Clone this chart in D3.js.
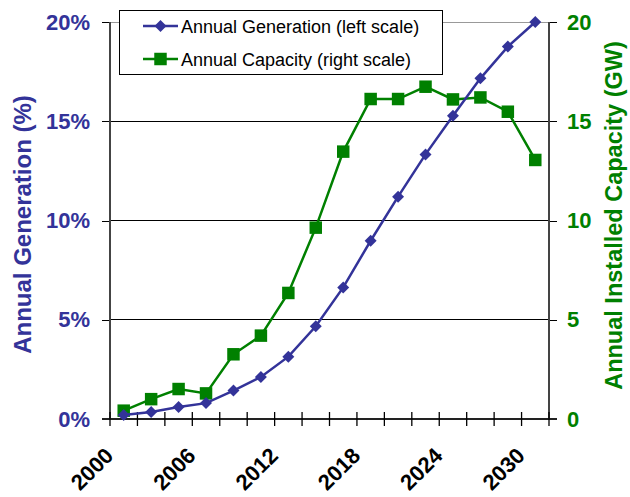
<!DOCTYPE html>
<html><head><meta charset="utf-8">
<script src="https://cdn.jsdelivr.net/npm/d3@7"></script>
<style>body{margin:0;background:#fff}svg{display:block}</style>
</head><body>
<svg id="c" width="630" height="497"></svg>
<script>
const years = ["2000","2002","2004","2006","2008","2010","2012","2014","2016","2018","2020","2022","2024","2026","2028","2030"];
const generation = [0.2,0.35,0.6,0.8,1.43,2.12,3.14,4.67,6.63,8.98,11.2,13.33,15.28,17.16,18.76,20.0];
const capacity = [0.42,1.0,1.51,1.29,3.26,4.2,6.35,9.64,13.47,16.12,16.12,16.74,16.1,16.2,15.48,13.05];
const xLabels = ["2000","2006","2012","2018","2024","2030"];
const leftTicks = [0,5,10,15,20];
const rightTicks = [0,5,10,15,20];
const seriesNames = ["Annual Generation (left scale)","Annual Capacity (right scale)"];
const leftTitle = "Annual Generation (%)";
const rightTitle = "Annual Installed Capacity (GW)";

const BLUE = "#333399", GREEN = "#008000";
const L = 110, R = 549, T = 22, B = 419;
const svg = d3.select("#c");
const font = "Liberation Sans, Arial, sans-serif";

const x = d3.scaleBand().domain(years).range([L, R]).padding(0);
const bw = x.bandwidth();
const cx = d => x(d) + bw / 2;
const yL = d3.scaleLinear().domain([0, 20]).range([B, T]);
const yR = d3.scaleLinear().domain([0, 20]).range([B, T]);

// gridlines
svg.append("g").selectAll("line").data(leftTicks.filter(d => d > 0)).join("line")
  .attr("x1", L).attr("x2", R).attr("y1", d => yL(d)).attr("y2", d => yL(d))
  .attr("stroke", d => d === 20 ? "#999" : "#000").attr("stroke-width", 1)
  .attr("shape-rendering", "crispEdges");

// left axis
const gl = svg.append("g").attr("transform", `translate(${L},0)`)
  .call(d3.axisLeft(yL).tickValues(leftTicks).tickSize(8).tickPadding(12).tickFormat(d => d + "%"));
gl.select(".domain").remove();
gl.selectAll(".tick line").attr("stroke", "#000").attr("stroke-width", 1).attr("shape-rendering", "crispEdges");
gl.selectAll(".tick text").attr("fill", BLUE).attr("font-family", font).attr("font-weight", "bold").attr("font-size", 22);

// right axis
const gr = svg.append("g").attr("transform", `translate(${R},0)`)
  .call(d3.axisRight(yR).tickValues(rightTicks).tickSize(8).tickPadding(10));
gr.select(".domain").remove();
gr.selectAll(".tick line").attr("stroke", "#000").attr("stroke-width", 1).attr("shape-rendering", "crispEdges");
gr.selectAll(".tick text").attr("fill", GREEN).attr("font-family", font).attr("font-weight", "bold").attr("font-size", 22);

// vertical axis lines
svg.append("line").attr("x1", L).attr("x2", L).attr("y1", T).attr("y2", B)
  .attr("stroke", "#444").attr("stroke-width", 2);
svg.append("line").attr("x1", R).attr("x2", R).attr("y1", T).attr("y2", B)
  .attr("stroke", "#444").attr("stroke-width", 2);

// bottom axis
svg.append("line").attr("x1", L - 8).attr("x2", R + 8).attr("y1", B).attr("y2", B)
  .attr("stroke", "#222").attr("stroke-width", 2);
const bounds = years.map(d => x(d)).concat([R]);
svg.append("g").selectAll("line").data(bounds).join("line")
  .attr("x1", d => d).attr("x2", d => d).attr("y1", B - 7).attr("y2", B + 7)
  .attr("stroke", "#000").attr("stroke-width", 1.3);
svg.append("g").selectAll("text").data(xLabels).join("text")
  .attr("transform", d => `translate(${cx(d) - 9},${B + 38}) rotate(-45)`)
  .attr("text-anchor", "end")
  .attr("font-family", font).attr("font-weight", "bold").attr("font-size", 22).attr("fill", "#000")
  .text(d => d);

// titles
svg.append("text").attr("transform", `translate(31,${(T + B) / 2 + 4}) rotate(-90)`)
  .attr("text-anchor", "middle").attr("font-family", font).attr("font-weight", "bold")
  .attr("font-size", 24).attr("fill", BLUE).text(leftTitle);
svg.append("text").attr("transform", `translate(622,${(T + B) / 2 - 5}) rotate(-90)`)
  .attr("text-anchor", "middle").attr("font-family", font).attr("font-weight", "bold")
  .attr("font-size", 23.5).attr("fill", GREEN).text(rightTitle);

// series
const lineL = d3.line().x((d, i) => cx(years[i])).y(d => yL(d));
const lineR = d3.line().x((d, i) => cx(years[i])).y(d => yR(d));
svg.append("path").attr("d", lineR(capacity)).attr("fill", "none").attr("stroke", GREEN).attr("stroke-width", 2.5);
svg.append("g").selectAll("path").data(capacity).join("path")
  .attr("d", d3.symbol(d3.symbolSquare, 156)())
  .attr("transform", (d, i) => `translate(${cx(years[i])},${yR(d)})`)
  .attr("fill", GREEN);
svg.append("path").attr("d", lineL(generation)).attr("fill", "none").attr("stroke", BLUE).attr("stroke-width", 2.5);
svg.append("g").selectAll("path").data(generation).join("path")
  .attr("d", d3.symbol(d3.symbolSquare, 72)())
  .attr("transform", (d, i) => `translate(${cx(years[i])},${yL(d)}) rotate(45)`)
  .attr("fill", BLUE);

// legend
const lg = svg.append("g");
lg.append("rect").attr("x", 119.5).attr("y", 10.5).attr("width", 323).attr("height", 64)
  .attr("fill", "#fff").attr("stroke", "#000").attr("stroke-width", 1);
const legY = [26, 59];
const legC = [BLUE, GREEN];
seriesNames.forEach((name, i) => {
  lg.append("line").attr("x1", 143).attr("x2", 178).attr("y1", legY[i]).attr("y2", legY[i])
    .attr("stroke", legC[i]).attr("stroke-width", 2.5);
  if (i === 0) {
    lg.append("path").attr("d", d3.symbol(d3.symbolSquare, 72)())
      .attr("transform", `translate(160.5,${legY[i]}) rotate(45)`).attr("fill", BLUE);
  } else {
    lg.append("path").attr("d", d3.symbol(d3.symbolSquare, 156)())
      .attr("transform", `translate(160.5,${legY[i]})`).attr("fill", GREEN);
  }
  lg.append("text").attr("x", 181).attr("y", legY[i] + 7)
    .attr("font-family", font).attr("font-size", 18).attr("fill", "#000").text(name);
});
</script>
</body></html>
